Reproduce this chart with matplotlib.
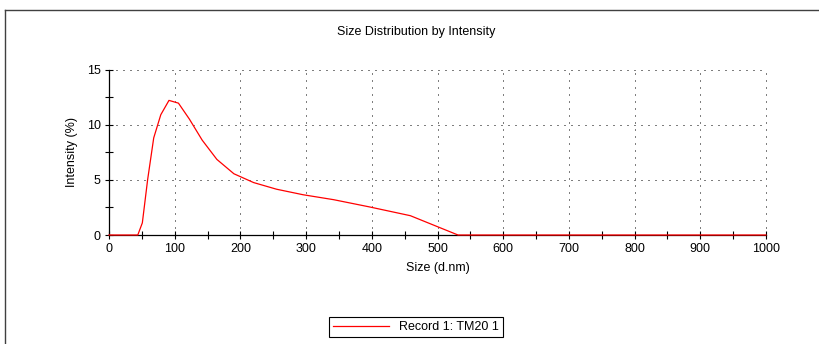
import matplotlib
matplotlib.use('Agg')
import matplotlib.pyplot as plt
from matplotlib.lines import Line2D

plt.rcParams['font.family'] = ['Liberation Sans', 'DejaVu Sans']

# DLS size bins (d.nm) and intensity (%)
size_nm = [0, 37.84, 43.82, 50.75, 58.77, 68.06, 78.82, 91.28, 105.7, 122.4,
           141.8, 164.2, 190.1, 220.2, 255.0, 295.3, 342.0, 396.1, 458.7,
           531.2, 615.1, 712.4, 825.0, 955.4, 1000]
intensity = [0, 0, 0, 1.1, 5.0, 8.8, 10.9, 12.2, 11.95, 10.5,
             8.6, 6.85, 5.55, 4.75, 4.15, 3.65, 3.2, 2.55, 1.75,
             0, 0, 0, 0, 0, 0]

fig = plt.figure(figsize=(8.19, 3.44), dpi=100)
ax = fig.add_axes([109/819, 1-235/344, (766-109)/819, (235-69.5)/344])

ax.plot(size_nm, intensity, color='#ff0000', lw=0.9, clip_on=False, zorder=5,
        label='Record 1: TM20 1')

ax.set_xlim(0, 1000)
ax.set_ylim(0, 15)
ax.set_xticks(range(0, 1001, 100))
ax.set_xticks(range(50, 1000, 100), minor=True)
ax.set_yticks([0, 5, 10, 15])
ax.set_yticks([2.5, 7.5, 12.5], minor=True)

ax.grid(True, which='major', color='black', lw=0.72, linestyle=(0, (1, 6)))
for gl in ax.get_xgridlines() + ax.get_ygridlines():
    gl.set_clip_on(False)
for s in ['top', 'right']:
    ax.spines[s].set_visible(False)
for s in ['left', 'bottom']:
    ax.spines[s].set_linewidth(0.9)
ax.tick_params(which='both', direction='inout', length=6, width=0.8,
               labelsize=9, pad=3)

ax.set_xlabel('Size (d.nm)', fontsize=9, labelpad=5)
ax.set_ylabel('Intensity (%)', fontsize=9, labelpad=6)

fig.text(0.508, 1-32/344, 'Size Distribution by Intensity', ha='center',
         va='center', fontsize=9)

leg = fig.legend(loc='center', bbox_to_anchor=(416/819, 1-327/344),
                 fontsize=9, fancybox=False, framealpha=1, edgecolor='black',
                 handlelength=4.5, borderpad=0.3)
leg.get_frame().set_linewidth(0.8)

# outer frame
fig.add_artist(Line2D([5/819, 1], [1-10/344, 1-10/344], color='#404040', lw=1))
fig.add_artist(Line2D([5/819, 5/819], [0, 1-10/344], color='#404040', lw=1))

fig.savefig('out.png', dpi=100)
